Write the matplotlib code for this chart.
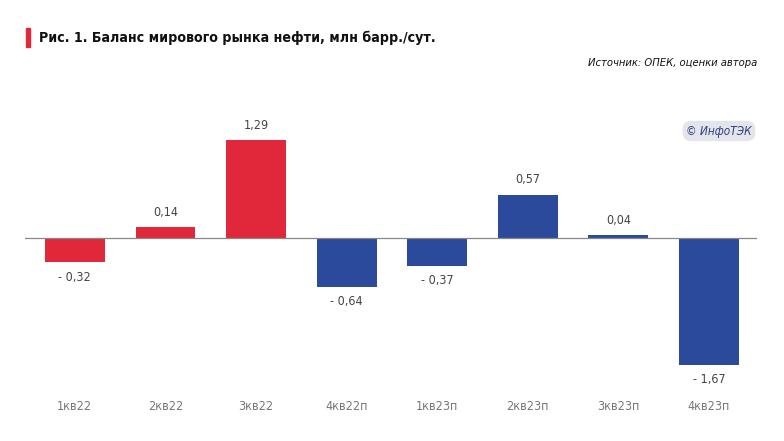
import numpy as np
import matplotlib.pyplot as plt
from matplotlib.patches import Rectangle

categories = ['1кв22', '2кв22', '3кв22', '4кв22п', '1кв23п', '2кв23п', '3кв23п', '4кв23п']
values = [-0.32, 0.14, 1.29, -0.64, -0.37, 0.57, 0.04, -1.67]
is_forecast = [False, False, False, True, True, True, True, True]

red = '#e0283a'
blue = '#2c4a9c'
colors = [blue if f else red for f in is_forecast]

plt.rcParams['font.family'] = ['DejaVu Sans']
plt.rcParams['font.stretch'] = 'condensed'

fig = plt.figure(figsize=(7.84, 4.41), dpi=100)
ax = fig.add_axes([25 / 784, 1 - 382.4 / 441, 732 / 784, 273.6 / 441])

x = np.arange(len(categories))
ax.bar(x, values, width=0.66, color=colors, zorder=2)
ax.axhline(0, color='#888888', lw=0.9, zorder=3)
ax.set_xlim(-0.55, 7.53)
ax.set_ylim(-1.9, 1.7)
ax.axis('off')

for xi, v in zip(x, values):
    txt = f'{abs(v):.2f}'.replace('.', ',')
    if v >= 0:
        ax.annotate(txt, (xi, v), xytext=(0, 6), textcoords='offset points',
                    ha='center', va='bottom', fontsize=9, color='#444444')
    else:
        ax.annotate('- ' + txt, (xi, v), xytext=(0, -6), textcoords='offset points',
                    ha='center', va='top', fontsize=9, color='#444444')

for xi, c in zip(x, categories):
    ax.annotate(c, (xi, 0), xycoords=('data', 'figure fraction'),
                xytext=(xi, 1 - 407 / 441), textcoords=('data', 'figure fraction'),
                ha='center', va='center', fontsize=9, color='#777777')

# заголовок
fig.patches.append(Rectangle((26 / 784, 1 - 47 / 441), 4 / 784, 19 / 441,
                             transform=fig.transFigure, color=red))
fig.text(39 / 784, 1 - 38 / 441, 'Рис. 1. Баланс мирового рынка нефти, млн барр./сут.',
         fontsize=10.2, fontweight='bold', color='#111111', va='center', ha='left')
fig.text(757 / 784, 1 - 63 / 441, 'Источник: ОПЕК, оценки автора',
         fontsize=8, style='italic', color='#111111', va='center', ha='right')

fig.text(719 / 784, 1 - 131 / 441, '© ИнфоТЭК', fontsize=8.5, style='italic',
         color='#2c3f80', ha='center', va='center',
         bbox=dict(boxstyle='round,pad=0.3,rounding_size=0.7', fc='#e4e5ea', ec='none'))

fig.savefig('out.png', dpi=100)
